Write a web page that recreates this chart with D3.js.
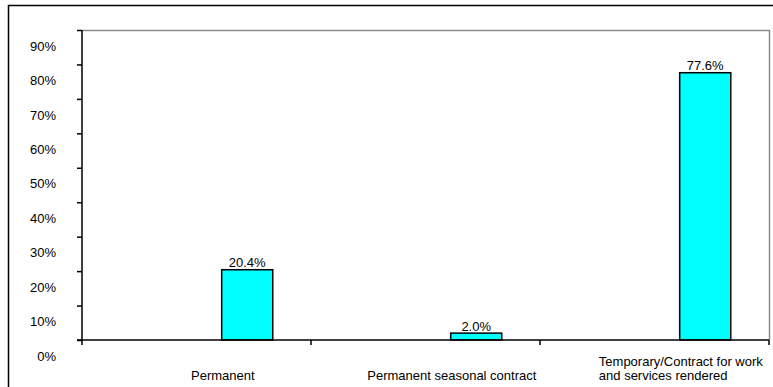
<!DOCTYPE html>
<html>
<head>
<meta charset="utf-8">
<script src="https://cdn.jsdelivr.net/npm/d3@7"></script>
<style>
  html, body { margin: 0; padding: 0; background: #fff; }
  svg { display: block; font-family: "Liberation Sans", Arial, sans-serif; }
</style>
</head>
<body>
<svg id="chart" width="773" height="387"></svg>
<script>
// Employment contract type shares
const categories = ["Permanent", "Permanent seasonal contract", "Temporary/Contract for work and services rendered"];
const categoryLines = [["Permanent"], ["Permanent seasonal contract"], ["Temporary/Contract for work", "and services rendered"]];
const shares = [0.204, 0.020, 0.776];
const valueLabels = ["20.4%", "2.0%", "77.6%"];
const yTicks = [0, 0.1, 0.2, 0.3, 0.4, 0.5, 0.6, 0.7, 0.8, 0.9];
const yTickLabels = ["0%", "10%", "20%", "30%", "40%", "50%", "60%", "70%", "80%", "90%"];

const svg = d3.select("#chart");
const W = 773, H = 387;
const plot = { left: 82, top: 30, right: 769, bottom: 340 };

// outer frame (extends past the window on the right and bottom)
svg.append("rect")
  .attr("x", 8.5).attr("y", 5.5)
  .attr("width", W + 20).attr("height", H + 20)
  .attr("fill", "#fff").attr("stroke", "#000").attr("stroke-width", 1.5);

const x = d3.scaleBand().domain(categories).range([plot.left, plot.right]).padding(0);
const y = d3.scaleLinear().domain([0, 0.9]).range([plot.bottom, plot.top]);

// plot area border (top and right in grey)
svg.append("path")
  .attr("d", `M${plot.left},${plot.top + 0.5}H${plot.right + 0.5}V${plot.bottom}`)
  .attr("fill", "none").attr("stroke", "#8c8c8c").attr("stroke-width", 1.5);

// bars sit in the right part of each category slot
const bw = x.bandwidth();
const barOffset = 0.61 * bw, barWidth = 0.223 * bw;

svg.append("g").selectAll("rect")
  .data(categories)
  .join("rect")
  .attr("x", (d) => x(d) + barOffset)
  .attr("y", (d, i) => y(shares[i]))
  .attr("width", barWidth)
  .attr("height", (d, i) => y(0) - y(shares[i]))
  .attr("fill", "#00ffff")
  .attr("stroke", "#000")
  .attr("stroke-width", 1.5);

// value labels
svg.append("g").selectAll("text")
  .data(categories)
  .join("text")
  .attr("x", (d) => x(d) + barOffset + barWidth / 2)
  .attr("y", (d, i) => y(shares[i]) - 2.5)
  .attr("text-anchor", "middle")
  .attr("font-size", 13)
  .attr("fill", "#000")
  .text((d, i) => valueLabels[i]);

// y axis
const yAxis = d3.axisLeft(y).tickValues(yTicks).tickSize(5).tickFormat((d, i) => yTickLabels[i]);
const gy = svg.append("g").attr("transform", `translate(${plot.left},0)`).call(yAxis);
gy.select(".domain").attr("stroke", "#000").attr("stroke-width", 1.5).attr("d", `M-5,${plot.bottom}H0V${plot.top}`);
gy.selectAll(".tick line").attr("stroke", "#000").attr("stroke-width", 1.5);
gy.selectAll(".tick text")
  .attr("font-size", 13)
  .attr("font-family", "Liberation Sans, Arial, sans-serif")
  .attr("fill", "#000")
  .attr("x", -26)
  .attr("dy", "1.55em");

// x axis baseline and category separators
const xAxis = d3.axisBottom(x).tickSize(0).tickFormat("");
const gx = svg.append("g").attr("transform", `translate(0,${plot.bottom})`).call(xAxis);
gx.select(".domain").attr("stroke", "#000").attr("stroke-width", 1.5).attr("d", `M${plot.left},0H${plot.right}`);
gx.selectAll(".tick").remove();
const sepPositions = categories.map((d) => x(d)).concat([plot.right]);
gx.selectAll("line.sep")
  .data(sepPositions)
  .join("line")
  .attr("class", "sep")
  .attr("x1", (d) => d).attr("x2", (d) => d)
  .attr("y1", 0).attr("y2", 5)
  .attr("stroke", "#000").attr("stroke-width", 1.5);

// category labels: bottom-aligned, left-aligned within a block
const lineH = 14, lastBaseline = 380;
categories.forEach((c, i) => {
  const lines = categoryLines[i];
  const cx = x(c) + 0.615 * bw;
  const g = svg.append("g");
  const texts = lines.map((ln, j) => g.append("text")
    .attr("y", lastBaseline - (lines.length - 1 - j) * lineH)
    .attr("font-size", 13)
    .attr("fill", "#000")
    .attr("text-anchor", "start")
    .text(ln));
  const maxW = d3.max(texts, (t) => t.node().getComputedTextLength());
  texts.forEach((t) => t.attr("x", cx - maxW / 2));
});
</script>
</body>
</html>
